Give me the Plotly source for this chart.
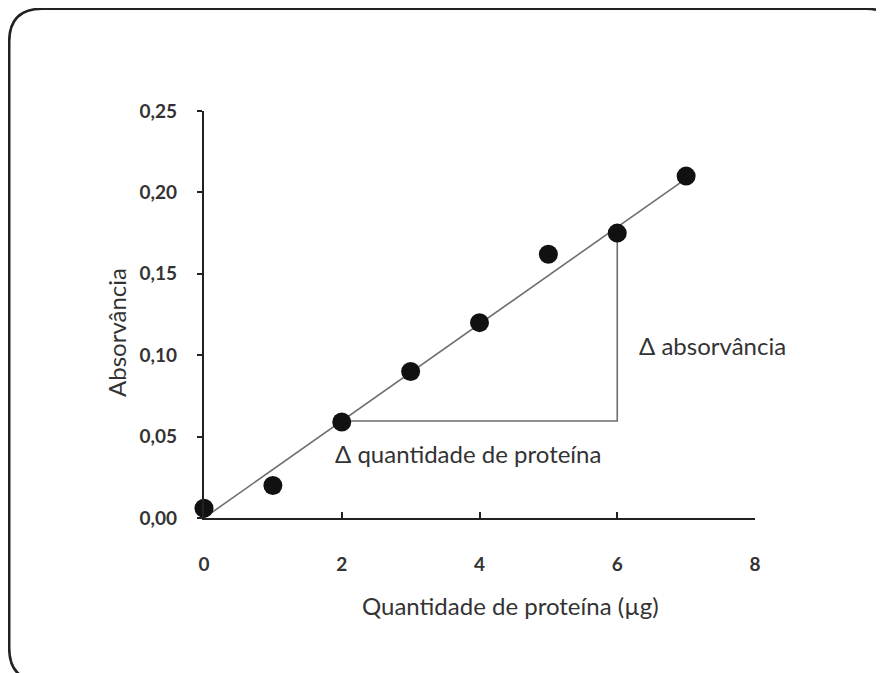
import plotly.graph_objects as go

# Data
protein_ug = [0, 1, 2, 3, 4, 5, 6, 7]
absorbance = [0.006, 0.020, 0.059, 0.090, 0.120, 0.162, 0.175, 0.210]
fit_x = [0, 7]
fit_y = [0.0, 0.2085]
tri_x = [2, 6, 6]
tri_y = [0.0596, 0.0596, 0.1787]
x_ticks = [0, 2, 4, 6, 8]
y_ticks = [0.00, 0.05, 0.10, 0.15, 0.20, 0.25]

# page body has an 8px margin -> figure is drawn at (8, 8)
W, H = 876, 665
L, T = 196, 103
pw, ph = 551, 407
R, B = W - L - pw, H - T - ph

def px(x):
    return (x - L) / pw

def py(y):
    return (T + ph - y) / ph

FONT = "Lato, 'Open Sans', sans-serif"

fig = go.Figure()
fig.add_trace(go.Scatter(x=fit_x, y=fit_y, mode="lines",
                         line=dict(color="#6e6e6e", width=1.6),
                         cliponaxis=False, hoverinfo="skip"))
fig.add_trace(go.Scatter(x=tri_x, y=tri_y, mode="lines",
                         line=dict(color="#6e6e6e", width=1.6),
                         cliponaxis=False, hoverinfo="skip"))
fig.add_trace(go.Scatter(x=protein_ug, y=absorbance, mode="markers",
                         marker=dict(color="#111111", size=19),
                         cliponaxis=False))

# Rounded frame
x0, x1, y0, y1, r = px(1.2), px(891), py(0.8), py(673), 33
rx, ry = r / pw, r / ph
path = (f"M {x0+rx} {y0} L {x1-rx} {y0} Q {x1} {y0} {x1} {y0-ry} "
        f"L {x1} {y1+ry} Q {x1} {y1} {x1-rx} {y1} "
        f"L {x0+rx} {y1} Q {x0} {y1} {x0} {y1+ry} "
        f"L {x0} {y0-ry} Q {x0} {y0} {x0+rx} {y0} Z")
fig.add_shape(type="path", path=path, xref="paper", yref="paper",
              line=dict(color="#222222", width=2.6), layer="below")

tick_font = dict(family=FONT, size=19, color="#333333", weight="bold")

fig.update_layout(
    width=W, height=H,
    margin=dict(l=L, r=R, t=T, b=B),
    plot_bgcolor="white", paper_bgcolor="white",
    showlegend=False,
    separators=",.",
    font=dict(family=FONT, color="#333333"),
    xaxis=dict(range=[0, 8], tickvals=x_ticks, ticks="inside", ticklen=6,
               tickwidth=2, tickcolor="#222222", showline=True, linewidth=2.2,
               linecolor="#222222", showgrid=False, zeroline=False,
               tickfont=tick_font, ticklabelstandoff=28),
    yaxis=dict(range=[0, 0.25], tickvals=y_ticks, tickformat=".2f",
               ticks="outside", ticklen=5, tickwidth=2, tickcolor="#222222",
               showline=True, linewidth=2.2, linecolor="#222222",
               showgrid=False, zeroline=False, tickfont=tick_font,
               ticklabelstandoff=16),
)

# axis titles
fig.add_annotation(x=px(510 - 8), y=py(605 - 8), xref="paper", yref="paper",
                   xanchor="center", yanchor="middle",
                   text="Quantidade de proteína (µg)", showarrow=False,
                   font=dict(size=24, color="#333333"))
fig.add_annotation(x=px(116 - 8), y=py(333 - 8), xref="paper", yref="paper",
                   xanchor="center", yanchor="middle",
                   text="Absorvância", showarrow=False, textangle=-90,
                   font=dict(size=24, color="#333333"))

fig.add_annotation(x=6, y=0.1, xref="x", yref="y", text="Δ absorvância",
                   showarrow=False, xanchor="left", yanchor="middle",
                   xshift=20, yshift=10,
                   font=dict(size=24, color="#333333"))
fig.add_annotation(x=2, y=0.0596, xref="x", yref="y",
                   text="Δ quantidade de proteína", showarrow=False,
                   xanchor="left", yanchor="top", xshift=-9, yshift=-16,
                   font=dict(size=24, color="#333333"))

fig.write_html("out.html")
